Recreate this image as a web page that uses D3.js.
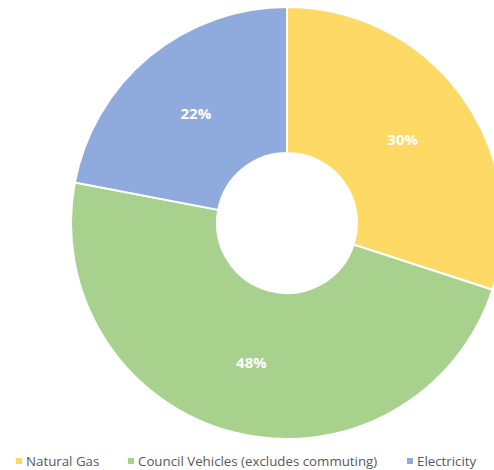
<!DOCTYPE html>
<html lang="en">
<head>
    <meta charset="utf-8">
    <title>Emissions by source</title>
    <script src="https://d3js.org/d3.v7.min.js"></script>
    <style>
        body, html { margin: 0; padding: 0; background: #fff; overflow: hidden; }
        .label { font: bold 15px "Open Sans", sans-serif; fill: #fff; text-anchor: middle; dominant-baseline: central; }
        .legend text { font: 13.3px "Open Sans", sans-serif; fill: #595959; dominant-baseline: central; }
    </style>
</head>
<body>
    <svg width="494" height="470"></svg>
    <script>
        var categories = ["Natural Gas", "Council Vehicles (excludes commuting)", "Electricity"];
        var values = [30, 48, 22];
        var colors = ["#FFD966", "#A9D18E", "#8FAADC"];

        var svg = d3.select("svg"),
            cx = 287, cy = 223,
            outerR = 216, innerR = 70;

        var pie = d3.pie().sort(null).value(function (d) { return d; });
        var arc = d3.arc().innerRadius(innerR).outerRadius(outerR);
        var labelArc = d3.arc().innerRadius((innerR + outerR) / 2).outerRadius((innerR + outerR) / 2);

        var g = svg.append("g").attr("transform", "translate(" + cx + "," + cy + ")");
        var arcs = pie(values);

        g.selectAll("path")
            .data(arcs)
            .enter().append("path")
            .attr("d", arc)
            .attr("fill", function (d, i) { return colors[i]; })
            .attr("stroke", "#fff")
            .attr("stroke-width", 2);

        g.selectAll("text")
            .data(arcs)
            .enter().append("text")
            .attr("class", "label")
            .attr("transform", function (d) { return "translate(" + labelArc.centroid(d) + ")"; })
            .text(function (d) { return d.data + "%"; });

        // legend
        var legendX = [16, 128, 407];
        var legend = svg.append("g").attr("class", "legend");
        var item = legend.selectAll("g")
            .data(categories)
            .enter().append("g")
            .attr("transform", function (d, i) { return "translate(" + legendX[i] + ",461)"; });
        item.append("rect")
            .attr("x", 0).attr("y", -3)
            .attr("width", 6).attr("height", 6)
            .attr("fill", function (d, i) { return colors[i]; });
        item.append("text")
            .attr("x", 10)
            .text(function (d) { return d; });
    </script>
</body>
</html>
